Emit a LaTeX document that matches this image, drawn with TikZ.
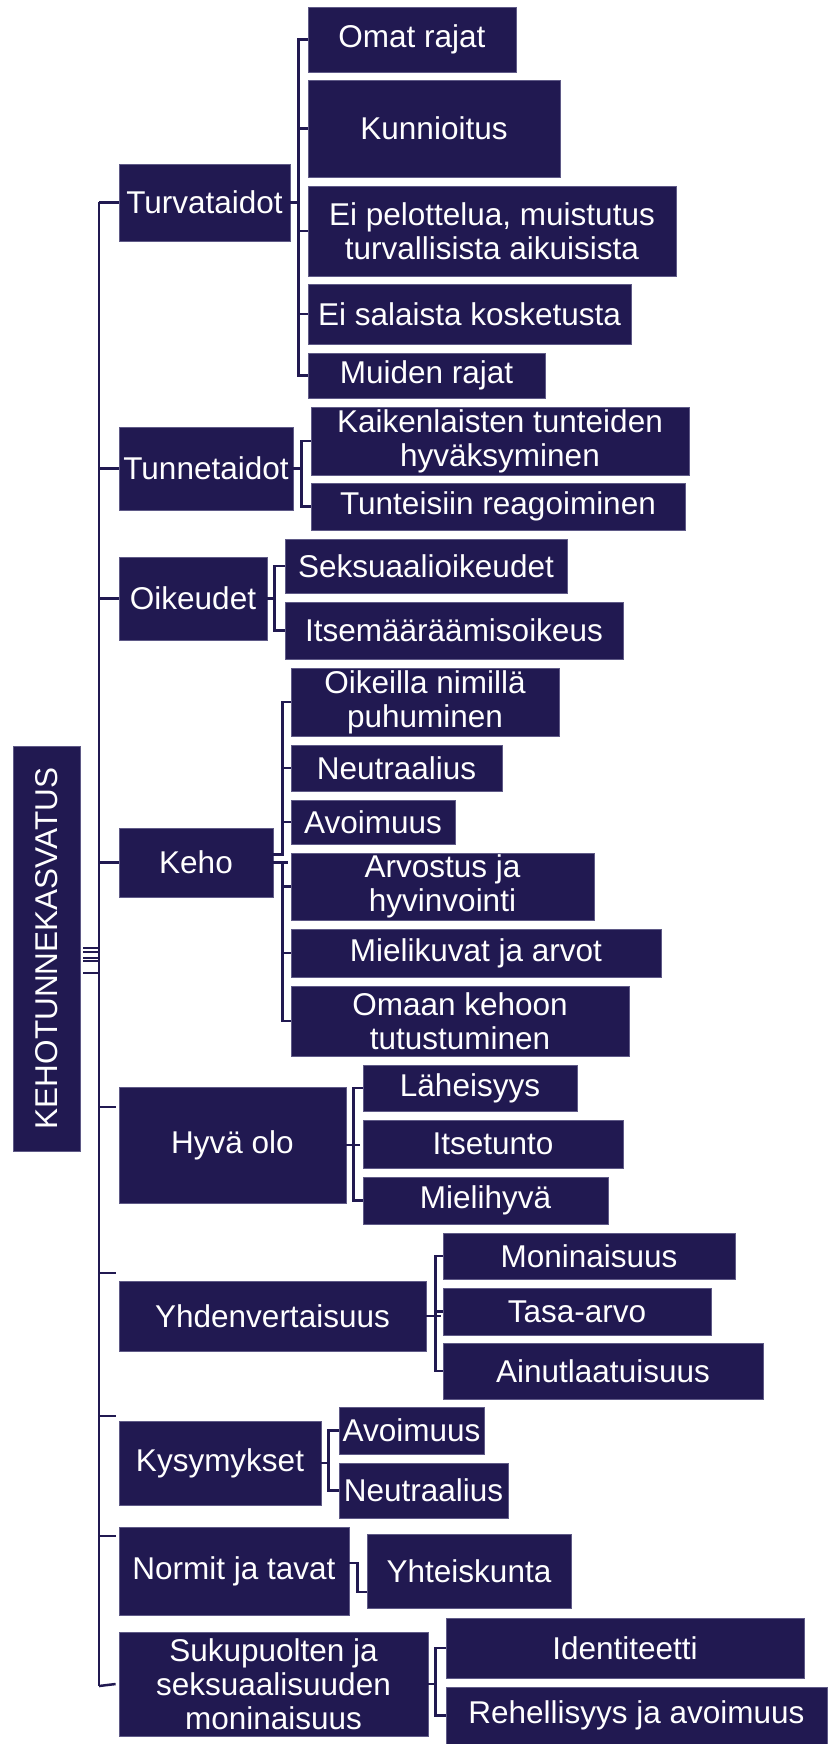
\documentclass[tikz,border=0pt]{standalone}
\usepackage{fontspec}
\setmainfont{Liberation Sans}
\definecolor{navy}{RGB}{33,25,81}
\definecolor{rim}{RGB}{95,90,135}
\tikzset{
  box/.style={shape=rectangle,draw=rim,line width=0.8pt,fill=navy,text=white,
    inner sep=0pt,align=center,font=\fontsize{31.5}{34}\selectfont},
  link/.style={draw=navy,line width=2.5pt}
}
\begin{document}
\begin{tikzpicture}[x=1pt,y=-1pt]
\useasboundingbox (0,0) rectangle (827,1744);

\node(root) at (46.5,948.5)[box,minimum width=67pt,minimum height=405pt] {\rotatebox{90}{KEHOTUNNEKASVATUS}};

% first level
\node(turva)  at (204.5,202.5)[box,minimum width=171pt,minimum height=77pt]  {Turvataidot};
\node(tunne)  at (206,468.5)  [box,minimum width=174pt,minimum height=83pt]  {Tunnetaidot};
\node(oikeus) at (193,598.5)  [box,minimum width=148pt,minimum height=83pt]  {Oikeudet};
\node(keho)   at (196,862.5)  [box,minimum width=154pt,minimum height=69pt]  {Keho};
\node(hyva)   at (232.5,1145) [box,minimum width=227pt,minimum height=116pt] {Hyvä olo};
\node(yhden)  at (272.5,1316) [box,minimum width=307pt,minimum height=70pt]  {Yhdenvertaisuus};
\node(kysym)  at (220,1463)   [box,minimum width=202pt,minimum height=84pt]  {Kysymykset};
\node(normit) at (234,1571)   [box,minimum width=230pt,minimum height=88pt]  {Normit ja tavat};
\node(suku)   at (273.5,1684) [box,minimum width=309pt,minimum height=104pt] {Sukupuolten ja\\seksuaalisuuden\\moninaisuus};

% second level
\node(omat)   at (412,39.5)   [box,minimum width=208pt,minimum height=65pt] {Omat rajat};
\node(kunn)   at (434,128.5)  [box,minimum width=252pt,minimum height=97pt] {Kunnioitus};
\node(eipel)  at (492,231)    [box,minimum width=368pt,minimum height=90pt] {Ei pelottelua, muistutus\\turvallisista aikuisista};
\node(eisal)  at (469.5,314)  [box,minimum width=323pt,minimum height=60pt] {Ei salaista kosketusta};
\node(muiden) at (426.5,375.5)[box,minimum width=237pt,minimum height=45pt] {Muiden rajat};

\node(kaiken)  at (500,441)   [box,minimum width=378pt,minimum height=68pt] {Kaikenlaisten tunteiden\\hyväksyminen};
\node(tunteis) at (498,506.5) [box,minimum width=374pt,minimum height=47pt] {Tunteisiin reagoiminen};

\node(seks)  at (426,566)     [box,minimum width=282pt,minimum height=54pt] {Seksuaalioikeudet};
\node(itsem) at (454,630.5)   [box,minimum width=338pt,minimum height=57pt] {Itsemääräämisoikeus};

\node(nimet)    at (425,702)    [box,minimum width=268pt,minimum height=68pt] {Oikeilla nimillä\\puhuminen};
\node(neutr)    at (396.5,768)  [box,minimum width=211pt,minimum height=46pt] {Neutraalius};
\node(avoim)    at (373,822)    [box,minimum width=164pt,minimum height=44pt] {Avoimuus};
\node(arvostus) at (442.5,886.5)[box,minimum width=303pt,minimum height=67pt] {Arvostus ja\\hyvinvointi};
\node(mielik)   at (476,953)    [box,minimum width=370pt,minimum height=48pt] {Mielikuvat ja arvot};
\node(omaan)    at (460,1021)   [box,minimum width=338pt,minimum height=70pt] {Omaan kehoon\\tutustuminen};

\node(laheis) at (470,1088)    [box,minimum width=214pt,minimum height=46pt] {Läheisyys};
\node(itset)  at (493,1144)    [box,minimum width=260pt,minimum height=48pt] {Itsetunto};
\node(mielih) at (485.5,1200.5)[box,minimum width=245pt,minimum height=47pt] {Mielihyvä};

\node(monin) at (589,1256)     [box,minimum width=292pt,minimum height=46pt] {Moninaisuus};
\node(tasa)  at (577,1311.5)   [box,minimum width=268pt,minimum height=47pt] {Tasa-arvo};
\node(ainut) at (603,1371)     [box,minimum width=320pt,minimum height=56pt] {Ainutlaatuisuus};

\node(kavoim) at (411.5,1430.5)[box,minimum width=145pt,minimum height=47pt] {Avoimuus};
\node(kneutr) at (423.5,1490.5)[box,minimum width=169pt,minimum height=55pt] {Neutraalius};

\node(yhteis) at (469,1571)    [box,minimum width=204pt,minimum height=74pt] {Yhteiskunta};

\node(ident)  at (625,1648)    [box,minimum width=358pt,minimum height=60pt] {Identiteetti};
\node(rehell) at (636.5,1715.5)[box,minimum width=381pt,minimum height=57pt] {Rehellisyys ja avoimuus};

% trunk
\coordinate(trunktop) at (99,202.5);
\coordinate(trunkbot) at (99,1686);
\draw[link] (trunktop) -- (trunkbot);
\foreach \dy in {0.5,-3.5,-9.5,-12.5,-24.5}
  \draw[link] ([yshift=\dy pt]root.east) ++(3,0) -- ++(16,0);

\draw[link] (turva.west)  -- (turva.west -| trunktop);
\draw[link] (tunne.west)  -- (tunne.west -| trunktop);
\draw[link] (oikeus.west) -- (oikeus.west -| trunktop);
\draw[link] (keho.west)   -- (keho.west -| trunktop);
\draw[link] ([yshift=38pt]hyva.west)   ++(-3,0) -- ++(-17,0);
\draw[link] ([yshift=43pt]yhden.west)  ++(-3,0) -- ++(-17,0);
\draw[link] ([yshift=47pt]kysym.west)  ++(-3,0) -- ++(-17,0);
\draw[link] ([yshift=35pt]normit.west) ++(-3,0) -- ++(-17,0);
\draw[link] (suku.west) ++(-3,0) -- (trunkbot);

% brackets
\draw[link] (turva.east) -- ++(9,0);
\draw[link] (omat.west) -- ++(-9,0) |- (muiden.west);
\foreach \n in {kunn,eipel,eisal} \draw[link] (\n.west) -- ++(-9,0);

\draw[link] (tunne.east) -- ++(9,0);
\draw[link] (kaiken.west) -- ++(-9,0) |- (tunteis.west);

\draw[link] (oikeus.east) -- ++(8,0);
\draw[link] (seks.west) -- ++(-10,0) |- (itsem.west);

\draw[link] ([yshift=8pt]keho.east) -- ++(9,0) |- (nimet.west);
\foreach \n in {neutr,avoim} \draw[link] (\n.west) -- ++(-9,0);
\draw[link] (keho.east) -- ++(15,0);
\draw[link] (keho.east) ++(9,0) |- (omaan.west);
\foreach \n in {arvostus,mielik} \draw[link] (\n.west) -- ++(-9,0);

\draw[link] (hyva.east) -- ++(14,0);
\draw[link] (laheis.west) -- ++(-9,0) |- (mielih.west);

\draw[link] (yhden.east) -- ++(15,0);
\draw[link] (monin.west) -- ++(-7,0) |- (ainut.west);
\draw[link] (tasa.west) -- ++(-7,0);

\draw[link] (kysym.east) -- ++(8,0);
\draw[link] (kavoim.west) -- ++(-10,0) |- (kneutr.west);

\draw[link] ([yshift=8pt]normit.east) -- ++(8,0) |- ([yshift=-21pt]yhteis.west);

\draw[link] (suku.east) -- ++(8,0);
\draw[link] (ident.west) -- ++(-10,0) |- (rehell.west);

\end{tikzpicture}
\end{document}
